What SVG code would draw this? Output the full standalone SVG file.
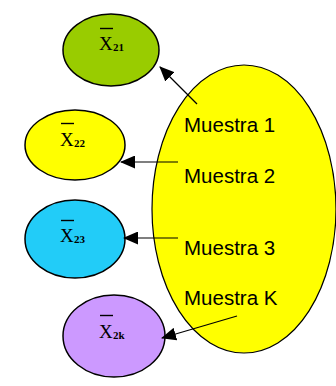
<svg xmlns="http://www.w3.org/2000/svg" width="336" height="386" viewBox="0 0 336 386">
  <style>
    .small { stroke: #000; stroke-width: 1.5; }
    .lbl { font-family: "Liberation Sans", Arial, sans-serif; font-size: 20.5px; fill: #000; }
    .mx { font-family: "Liberation Serif", "Times New Roman", serif; font-size: 19px; fill: #000; }
    .sub { font-family: "Liberation Serif", "Times New Roman", serif; font-size: 11px; font-weight: bold; fill: #000; }
    .bar { stroke: #000; stroke-width: 1.4; }
    .conn { stroke: #000; stroke-width: 1.2; fill: none; marker-end: url(#ah); }
  </style>
  <defs>
    <marker id="ah" markerUnits="userSpaceOnUse" markerWidth="15" markerHeight="13" refX="14" refY="6.5" orient="auto">
      <path d="M0,0 L15,6.5 L0,13 Z" fill="#000"/>
    </marker>
  </defs>
  <rect width="336" height="386" fill="#fff"/>

  <g id="big">
    <ellipse cx="244" cy="209" rx="92" ry="144" fill="#ffff00" stroke="#000" stroke-width="1.2"/>
  </g>

  <g id="n21">
    <ellipse class="small" cx="111" cy="50" rx="48" ry="36" fill="#99cc00"/>
    <line class="bar" x1="100" y1="28.5" x2="113" y2="28.5"/>
    <text class="mx" x="99" y="50">X</text>
    <text class="sub" x="113" y="51">21</text>
  </g>
  <g id="n22">
    <ellipse class="small" cx="75" cy="145" rx="50" ry="35" fill="#ffff00"/>
    <line class="bar" x1="61" y1="123.5" x2="74" y2="123.5"/>
    <text class="mx" x="60" y="146">X</text>
    <text class="sub" x="74" y="147">22</text>
  </g>
  <g id="n23">
    <ellipse class="small" cx="75" cy="239" rx="50" ry="39" fill="#22ccf8"/>
    <line class="bar" x1="61" y1="220.5" x2="74" y2="220.5"/>
    <text class="mx" x="60" y="242">X</text>
    <text class="sub" x="74" y="243">23</text>
  </g>
  <g id="n2k">
    <ellipse class="small" cx="114" cy="336" rx="51" ry="41" fill="#cc99ff"/>
    <line class="bar" x1="100" y1="315.5" x2="113" y2="315.5"/>
    <text class="mx" x="99" y="338">X</text>
    <text class="sub" x="113" y="339">2k</text>
  </g>

  <g id="labels">
    <text class="lbl" x="184" y="132">Muestra 1</text>
    <text class="lbl" x="184" y="183">Muestra 2</text>
    <text class="lbl" x="184" y="255">Muestra 3</text>
    <text class="lbl" x="184" y="305">Muestra K</text>
  </g>

  <g id="connectors">
    <line class="conn" x1="197" y1="104" x2="160" y2="67"/>
    <line class="conn" x1="178" y1="162" x2="121" y2="162"/>
    <line class="conn" x1="178" y1="238" x2="124" y2="238"/>
    <line class="conn" x1="237" y1="316" x2="162" y2="338"/>
  </g>
</svg>
